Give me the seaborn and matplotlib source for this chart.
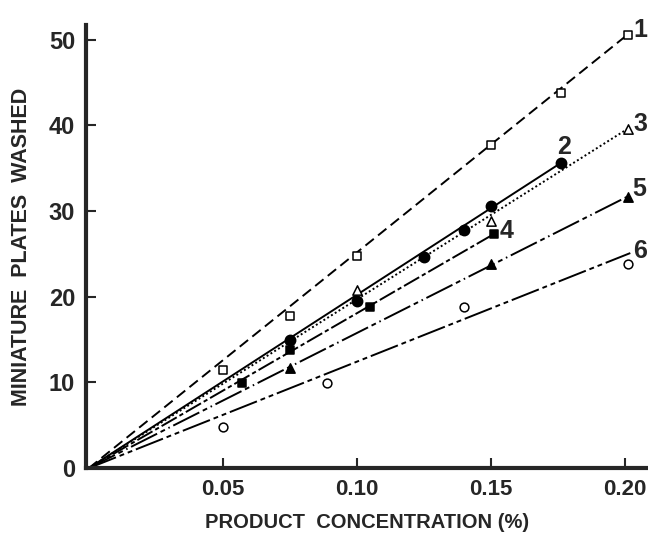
import numpy as np
import pandas as pd
import matplotlib
matplotlib.use("Agg")
import matplotlib.pyplot as plt
import seaborn as sns

# curve numbers
curves = ["1", "2", "3", "4", "5", "6"]

x1 = [0.050, 0.075, 0.100, 0.150, 0.176, 0.201]
y1 = [11.4, 17.8, 24.8, 37.7, 43.8, 50.6]
x2 = [0.075, 0.100, 0.125, 0.140, 0.150, 0.176]
y2 = [15.0, 19.5, 24.6, 27.8, 30.6, 35.6]
x3 = [0.100, 0.150, 0.201]
y3 = [20.8, 28.8, 39.6]
x4 = [0.057, 0.075, 0.105, 0.151]
y4 = [9.9, 13.8, 18.8, 27.3]
x5 = [0.075, 0.150, 0.201]
y5 = [11.7, 23.8, 31.7]
x6 = [0.050, 0.089, 0.140, 0.201]
y6 = [4.8, 9.9, 18.8, 23.8]

# end of the straight line drawn from the origin for each curve
line_end_x = [0.201, 0.176, 0.201, 0.151, 0.201, 0.202]
line_end_y = [50.6, 35.6, 39.6, 27.3, 31.7, 25.1]

# where the curve numbers sit
num_x = [0.2057, 0.1772, 0.2056, 0.1559, 0.2054, 0.2058]
num_y = [51.1, 37.5, 40.2, 27.7, 32.6, 25.3]

x_ticks = [0.05, 0.10, 0.15, 0.20]
x_ticklabels = ["0.05", "0.10", "0.15", "0.20"]
y_ticks = [0, 10, 20, 30, 40, 50]

sns.set_style("ticks")
plt.rcParams['font.family'] = ['Liberation Sans Narrow', 'Liberation Sans', 'DejaVu Sans']
plt.rcParams['font.weight'] = 'bold'

fig = plt.figure(figsize=(6.48, 5.35), dpi=100)
ax = fig.add_axes([0.133, 0.125, 0.867, 0.828])

xs = [x1, x2, x3, x4, x5, x6]
ys = [y1, y2, y3, y4, y5, y6]
markers = ["s", "o", "^", "s", "^", "o"]
filled = [False, True, False, True, True, False]
sizes = [38, 55, 45, 40, 45, 40]
styles = [(0, (5.5, 2.8)),
          "-",
          (0, (1, 1.3)),
          (0, (9, 1.6, 2.2, 1.6)),
          (0, (15, 2, 2.5, 2, 0.8, 2)),
          (0, (15, 2, 2.5, 2, 2.5, 2))]

# lines from origin
for i in range(6):
    sns.lineplot(x=[0, line_end_x[i]], y=[0, line_end_y[i]], ax=ax,
                 color="black", lw=1.4, linestyle=styles[i], zorder=2)

# points
for i in range(6):
    fc = "black" if filled[i] else "white"
    sns.scatterplot(x=xs[i], y=ys[i], ax=ax, marker=markers[i], s=sizes[i],
                    facecolor=fc, edgecolor="black", linewidth=1.1, zorder=3)

for i in range(6):
    ax.text(num_x[i], num_y[i], curves[i], fontsize=18, fontweight="bold",
            ha="center", va="center", clip_on=False)

ax.set_xlim(-0.001, 0.2086)
ax.set_ylim(0, 51.7)
ax.set_xticks(x_ticks)
ax.set_xticklabels(x_ticklabels)
ax.set_yticks(y_ticks)

sns.despine(ax=ax)
ax.spines["left"].set_linewidth(3)
ax.spines["bottom"].set_linewidth(3)
ax.tick_params(axis="both", direction="in", length=7, width=1.5, labelsize=16)
ax.tick_params(axis="x", pad=8)
ax.tick_params(axis="y", pad=8, labelsize=17)

ax.set_xlabel("PRODUCT  CONCENTRATION (%)", fontsize=14.5, fontweight="bold", labelpad=9)
ax.set_ylabel("MINIATURE  PLATES  WASHED", fontsize=15.5, fontweight="bold", labelpad=12)

fig.savefig("out.png", dpi=100)
